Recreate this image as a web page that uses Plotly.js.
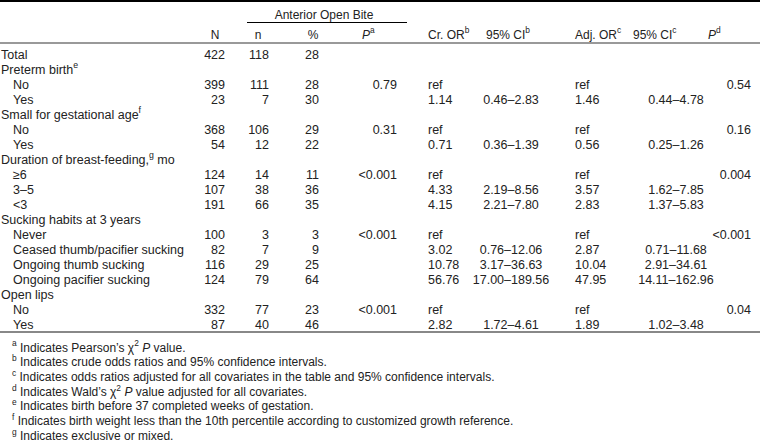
<!DOCTYPE html>
<html>
<head>
<meta charset="utf-8">
<script src="https://cdn.plot.ly/plotly-3.0.1.min.js"></script>
<style>html,body{margin:0;padding:0;background:#fff;}#chart{width:760px;height:443px;}</style>
</head>
<body>
<div id="chart"></div>
<script>
// ---- data ----
const labels = ["Total","Preterm birth<sup>e</sup>","No","Yes","Small for gestational age<sup>f</sup>","No","Yes",
  "Duration of breast-feeding,<sup>g</sup> mo","≥6","3–5","<3","Sucking habits at 3 years","Never",
  "Ceased thumb/pacifier sucking","Ongoing thumb sucking","Ongoing pacifier sucking","Open lips","No","Yes"];
const indent = [0,0,1,1,0,1,1,0,1,1,1,0,1,1,1,1,0,1,1];
const colN   = ["422","","399","23","","368","54","","124","107","191","","100","82","116","124","","332","87"];
const colN2  = ["118","","111","7","","106","12","","14","38","66","","3","7","29","79","","77","40"];
const colPct = ["28","","28","30","","29","22","","11","36","35","","3","9","25","64","","23","46"];
const colPa  = ["","","0.79","","","0.31","","","<0.001","","","","<0.001","","","","","<0.001",""];
const colCrOR = ["","","ref","1.14","","ref","0.71","","ref","4.33","4.15","","ref","3.02","10.78","56.76","","ref","2.82"];
const colCrCI = ["","","","0.46–2.83","","","0.36–1.39","","","2.19–8.56","2.21–7.80","","","0.76–12.06","3.17–36.63","17.00–189.56","","","1.72–4.61"];
const colAdjOR = ["","","ref","1.46","","ref","0.56","","ref","3.57","2.83","","ref","2.87","10.04","47.95","","ref","1.89"];
const colAdjCI = ["","","","0.44–4.78","","","0.25–1.26","","","1.62–7.85","1.37–5.83","","","0.71–11.68","2.91–34.61","14.11–162.96","","","1.02–3.48"];
const colPd  = ["","","0.54","","","0.16","","","0.004","","","","<0.001","","","","","0.04",""];
const headers = ["N","n","%","<i>P</i><sup>a</sup>","Cr. OR<sup>b</sup>","95% CI<sup>b</sup>","Adj. OR<sup>c</sup>","95% CI<sup>c</sup>","<i>P</i><sup>d</sup>"];
const spanner = "Anterior Open Bite";
const footnotes = [
  "<sup>a</sup> Indicates Pearson’s χ<sup>2</sup> <i>P</i> value.",
  "<sup>b</sup> Indicates crude odds ratios and 95% confidence intervals.",
  "<sup>c</sup> Indicates odds ratios adjusted for all covariates in the table and 95% confidence intervals.",
  "<sup>d</sup> Indicates Wald’s χ<sup>2</sup> <i>P</i> value adjusted for all covariates.",
  "<sup>e</sup> Indicates birth before 37 completed weeks of gestation.",
  "<sup>f</sup> Indicates birth weight less than the 10th percentile according to customized growth reference.",
  "<sup>g</sup> Indicates exclusive or mixed."
];

// ---- layout geometry ----
const FAMILY = "'Liberation Sans', Arial, sans-serif";
const FONT = {family: FAMILY, size: 12.5, color: "#222"};
const NUMFONT = {family: FAMILY, size: 12.5, color: "#222"};
const HEADFONT = {family: FAMILY, size: 12, color: "#222"};
const FOOTFONT = {family: FAMILY, size: 12, color: "#222"};
const rowTop = 55.5, rowStep = 15.0;
const headerY = 35.5, spannerY = 15.5;
const footTop = 348.5, footStep = 14.7;
const rowY = labels.map((_, i) => rowTop + i * rowStep);

function textTrace(xs, ys, texts, pos, font) {
  return {type: "scatter", mode: "text", x: xs, y: ys, text: texts, textposition: pos,
    textfont: font || FONT, hoverinfo: "skip", cliponaxis: false, showlegend: false};
}
function col(values, x, pos) {
  const idx = values.map((v, i) => i).filter(i => values[i] !== "");
  return textTrace(idx.map(() => x), idx.map(i => rowY[i]), idx.map(i => values[i]), pos, NUMFONT);
}

const traces = [
  textTrace(labels.map((_, i) => indent[i] ? 13 : 1), rowY, labels, "middle right", FONT),
  col(colN, 225, "middle left"),
  col(colN2, 269, "middle left"),
  col(colPct, 319, "middle left"),
  col(colPa, 397, "middle left"),
  col(colCrOR, 428, "middle right"),
  col(colCrCI, 511, "middle center"),
  col(colAdjOR, 575, "middle right"),
  col(colAdjCI, 676, "middle center"),
  col(colPd, 751, "middle left"),
  // headers
  textTrace([215, 258, 313], [headerY, headerY, headerY], headers.slice(0, 3), "middle center", HEADFONT),
  textTrace([362, 428, 486, 575, 633, 708], headers.slice(3).map(() => headerY), headers.slice(3), "middle right", HEADFONT),
  textTrace([324], [spannerY], [spanner], "middle center", HEADFONT),
  // footnotes
  textTrace(footnotes.map(() => 12), footnotes.map((_, i) => footTop + i * footStep), footnotes, "middle right", FOOTFONT)
];

const lastY = rowY[rowY.length - 1];
const shapes = [
  {type: "line", xref: "x", yref: "y", x0: 0, x1: 760, y0: 1, y1: 1, line: {color: "#000", width: 2}},
  {type: "line", xref: "x", yref: "y", x0: 247, x1: 407, y0: 22.5, y1: 22.5, line: {color: "#000", width: 1}},
  {type: "line", xref: "x", yref: "y", x0: 0, x1: 760, y0: 43, y1: 43, line: {color: "#777", width: 1.5}},
  {type: "line", xref: "x", yref: "y", x0: 0, x1: 760, y0: lastY + 6.5, y1: lastY + 6.5, line: {color: "#888", width: 2}}
];

const layout = {
  width: 760, height: 443,
  margin: {l: 0, r: 0, t: 0, b: 0},
  paper_bgcolor: "#fff", plot_bgcolor: "#fff",
  xaxis: {range: [0, 760], visible: false, fixedrange: true},
  yaxis: {range: [443, 0], visible: false, fixedrange: true},
  shapes: shapes,
  showlegend: false,
  font: FONT
};

Plotly.newPlot("chart", traces, layout, {staticPlot: true, displayModeBar: false});
</script>
</body>
</html>
